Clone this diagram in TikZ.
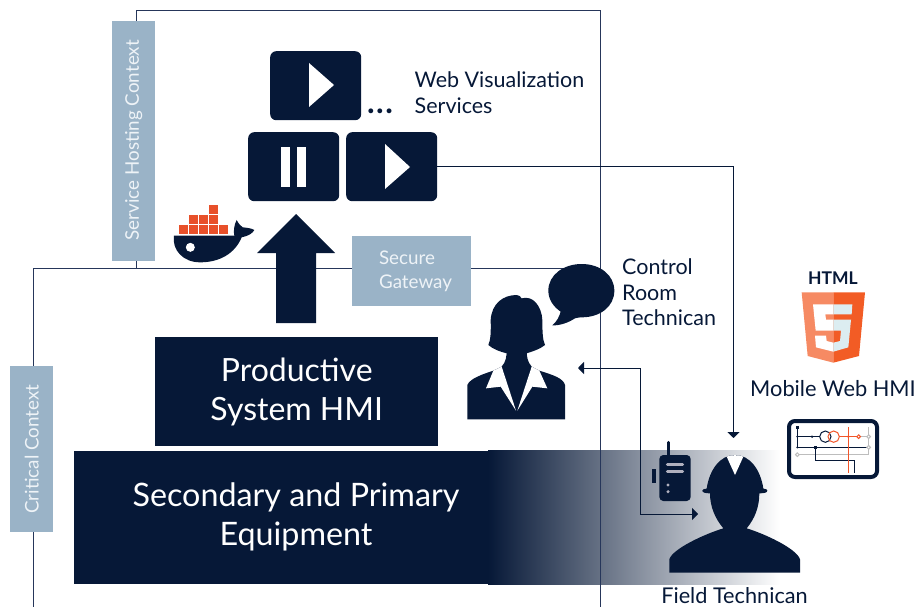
\documentclass[tikz,border=0pt]{standalone}
\usepackage{fontspec}
\setmainfont{Lato}
\usetikzlibrary{arrows.meta}
\definecolor{navy}{HTML}{061837}
\definecolor{bluegray}{HTML}{9AB3C7}
\definecolor{framec}{HTML}{26365A}
\definecolor{softw}{HTML}{EEF3F7}
\definecolor{dockor}{HTML}{E8502A}
\definecolor{orL}{HTML}{F68A63}
\definecolor{orR}{HTML}{F25C25}
\definecolor{pale}{HTML}{DCEDF1}
\definecolor{grille}{HTML}{B0B0BE}
\definecolor{ckor}{HTML}{F2562A}
\definecolor{ckgr}{HTML}{BDBDBD}
\definecolor{bandM}{HTML}{80809A}
\newcommand{\fsz}[2]{\fontsize{#1}{#2}\selectfont}
\tikzset{
  tile/.style={fill=navy,rounded corners=6pt,inner sep=0,minimum width=91pt,minimum height=69pt,anchor=north west},
  block/.style={fill=navy,text=white,inner sep=0,align=center,anchor=north west},
  ctx/.style={fill=bluegray,inner sep=0,anchor=north west},
  ctxlabel/.style={text=softw,inner sep=0,rotate=90,font=\fsz{18.8}{18.8}},
  label/.style={text=navy,inner sep=0,align=left,anchor=north west},
  frameline/.style={draw=framec,line width=1pt},
  conn/.style={draw=navy,line width=1pt,-{Triangle[length=6pt,width=12pt]}},
  connb/.style={draw=navy,line width=1pt,{Triangle[length=6pt,width=12pt]}-{Triangle[length=6pt,width=12pt]}},
  zoomed/.style={x=0.33333pt,y=-0.33333pt},
  sq/.style={fill=dockor},
}
\begin{document}
\begin{tikzpicture}[x=1pt,y=-1pt]
\useasboundingbox (0,0) rectangle (915,607);
% gradient band
\shade[left color=navy,middle color=bandM,right color=white] (488,450) rectangle (780,584);
% context frames
\coordinate (svcA) at (136.7,268.7);
\coordinate (svcB) at (136.7,10.7);
\coordinate (svcC) at (600.5,10.7);
\coordinate (svcD) at (600.5,607);
\coordinate (critA) at (33.3,607);
\coordinate (critB) at (33.3,268.7);
\coordinate (critC) at (565,268.7);
\draw[frameline] (svcA) -- (svcB) -- (svcC) -- (svcD);
\draw[frameline] (critA) -- (critB) -- (critC);
% context labels
\node[ctx,minimum width=43pt,minimum height=240pt] (svc) at (112,21) {};
\node[ctxlabel,xshift=1pt] at (svc.center) {Service Hosting Context};
\node[ctx,minimum width=43pt,minimum height=166pt] (crit) at (10,366) {};
\node[ctxlabel] at (crit.center) {Critical Context};
\node[ctx,minimum width=119pt,minimum height=70pt] (gw) at (352,236) {};
\node[text=softw,inner sep=0,font=\fsz{18.8}{24},align=left] (gwtext) at (415.5,271.5) {Secure\\Gateway};
% service tiles
\node[tile] (playa) at (270,51) {};
\node[tile] (pause) at (248,132) {};
\node[tile] (playb) at (346,132) {};
\fill[white] (309,63) -- (334,85) -- (309,107) -- cycle;
\fill[white] (385,144) -- (410,167) -- (385,189) -- cycle;
\fill[white] (281,147) rectangle (290,187);
\fill[white] (297,147) rectangle (306,187);
\node[label,font=\fsz{21.5}{26}] (webvis) at (414.5,71.5) {Web Visualization\\Services};
\node[text=navy,inner sep=0,font=\bfseries\fsz{32}{32}] (dots) at (380,111.5) {.\hspace{1.5pt}.\hspace{1.5pt}.};
% big arrow
\fill[navy] (296,214) -- (335,253) -- (316,253) -- (316,323) -- (276,323) -- (276,253) -- (257,253) -- cycle;
% docker
\foreach \x in {179,189,199,209,219} \fill[sq] (\x,225) rectangle +(9,9);
\foreach \x in {189,199,209} \fill[sq] (\x,215) rectangle +(9,9);
\fill[sq] (209,205) rectangle +(9,9);
\begin{scope}[shift={(100,0)},zoomed]
\fill[navy] (222,707) -- (403,707) .. controls (400,695) and (402,675) .. (410,660) .. controls (415,670) and (422,678) .. (428,682) .. controls (440,683) and (455,685) .. (463,690) .. controls (458,700) and (445,708) .. (425,712) .. controls (405,760) and (360,787) .. (300,787) .. controls (250,787) and (215,750) .. (222,707) -- cycle;
\fill[white] (271,742) circle[radius=13.5];
\end{scope}
% hmi blocks
\node[block,minimum width=283pt,minimum height=109pt,font=\fsz{32}{39}] (hmi) at (155,337) {Productive\\System HMI};
\node[block,minimum width=414pt,minimum height=133pt] (eqbox) at (74,451) {};
\node[text=white,inner sep=0,align=center,font=\fsz{32.3}{39}] (eq) at (296,517) {Secondary and Primary\\Equipment};
% woman
\begin{scope}[shift={(460,250)},zoomed]
\fill[navy] (92,210) .. controls (95,160) and (130,135) .. (170,135) .. controls (177,135) and (182,140) .. (185,145) .. controls (220,135) and (245,170) .. (247,210) .. controls (247,245) and (248,270) .. (255,285) .. controls (240,298) and (215,305) .. (200,310) -- (140,310) .. controls (120,305) and (100,298) .. (85,285) .. controls (92,270) and (93,245) .. (92,210) -- cycle;
\fill[navy] (22,508) -- (22,405) .. controls (30,385) and (70,372) .. (100,362) -- (125,350) .. controls (138,335) and (140,320) .. (140,300) -- (200,300) .. controls (200,320) and (202,335) .. (215,350) -- (238,362) .. controls (280,375) and (310,385) .. (315,405) -- (315,508) -- cycle;
\fill[white] (100,362) -- (78,415) -- (122,410) -- (168,482) -- (125,350) -- cycle;
\fill[white] (238,362) -- (262,415) -- (217,410) -- (172,482) -- (215,350) -- cycle;
% speech bubble
\fill[navy] (265,122) .. controls (265,75) and (310,42) .. (365,42) .. controls (420,42) and (463,75) .. (463,122) .. controls (463,170) and (420,202) .. (365,202) .. controls (358,202) and (352,203) .. (345,205) .. controls (325,218) and (300,227) .. (277,226) .. controls (290,215) and (298,200) .. (302,185) .. controls (280,170) and (265,148) .. (265,122) -- cycle;
\end{scope}
\node[label,font=\fsz{21.5}{25.5}] (ctrl) at (622,258.5) {Control\\Room\\Technican};
% radio
\begin{scope}[shift={(640,410)},zoomed]
\draw[navy,line width=3pt,line cap=round] (84,97) -- (84,140);
\fill[navy,rounded corners=4pt] (58,135) rectangle (152,273);
\fill[navy] (37,178) rectangle (47,218);
\draw[grille,line width=3pt,line cap=round] (82,162) -- (128,162);
\draw[grille,line width=3pt,line cap=round] (82,184) -- (128,184);
\fill[grille] (84,225) circle[radius=5];
\fill[grille] (84,245) circle[radius=5];
% technician
\fill[navy] (187,242) .. controls (187,238) and (193,236) .. (200,236) .. controls (208,180) and (240,135) .. (285,135) .. controls (330,135) and (362,180) .. (370,236) .. controls (377,236) and (382,238) .. (382,242) .. controls (382,248) and (372,250) .. (358,250) .. controls (358,290) and (345,325) .. (320,355) .. controls (370,370) and (470,415) .. (480,448) -- (480,488) -- (88,488) -- (88,448) .. controls (98,415) and (200,370) .. (250,355) .. controls (225,325) and (210,290) .. (210,250) .. controls (197,250) and (187,248) .. (187,242) -- cycle;
\fill[white] (260,140) -- (285,195) -- (310,140) .. controls (295,134) and (275,134) .. (260,140) -- cycle;
\end{scope}
\node[text=navy,inner sep=0,font=\fsz{21.7}{21.7}] (field) at (734.5,596) {Field Technican};
% html5
\node[text=navy,inner sep=0,font=\bfseries\fsz{17.5}{17.5}] (html) at (833,278) {HTML};
\begin{scope}[shift={(740,260)},zoomed]
\fill[orL] (185,97) -- (280,97) -- (280,308) -- (203,288) -- cycle;
\fill[orR] (280,97) -- (375,97) -- (357,288) -- (280,308) -- cycle;
\fill[white] (219,133) -- (280,133) -- (280,163) -- (256,163) -- (258,179) -- (280,179) -- (280,212) -- (227,212) -- cycle;
\fill[white] (280,248) -- (280,275) -- (228,262) -- (225,227) -- (258,227) -- (260,243) -- cycle;
\fill[pale] (280,133) -- (337,133) -- (335,163) -- (280,163) -- cycle;
\fill[pale] (280,179) -- (333,179) -- (325,262) -- (280,275) -- (280,248) -- (300,243) -- (303,212) -- (280,212) -- cycle;
\end{scope}
\node[text=navy,inner sep=0,font=\fsz{21.8}{21.8}] (mobile) at (833,389) {Mobile Web HMI};
% tablet
\draw[navy,line width=4pt,rounded corners=6pt,fill=white] (789,421) rectangle (877,477);
\begin{scope}[shift={(640,410)},zoomed]
\draw[ckgr,line width=1pt] (472,134) -- (686,134) -- (686,52);
\draw[ckgr,line width=1pt] (662,80) -- (680,80);
\draw[navy,line width=1pt] (472,50) -- (472,112) -- (680,112);
\draw[navy,line width=1pt] (472,80) -- (540,80);
\draw[navy,line width=1pt] (526,112) -- (526,150) -- (642,150) -- (642,188);
\fill[navy] (468,47) rectangle (477,56);
\fill[navy] (522,108) rectangle (531,117);
\fill[navy] (516,80) circle[radius=4];
\fill[navy] (472,80) circle[radius=3.5];
\fill[navy] (472,112) circle[radius=3.5];
\draw[navy,line width=1pt] (556,80) circle[radius=17];
\draw[ckor,line width=1pt] (581,80) circle[radius=17];
\draw[ckor,line width=1pt] (598,80) -- (651,80);
\draw[ckor,line width=1pt] (625,52) -- (625,188);
\fill[ckor] (625,80) circle[radius=4];
\draw[ckor,line width=1pt,fill=white] (656,80) circle[radius=5.5];
\draw[ckgr,line width=1pt,fill=white] (686,80) circle[radius=5.5];
\draw[ckgr,line width=1pt,fill=white] (686,112) circle[radius=5.5];
\draw[ckgr,line width=1pt,fill=white] (472,134) circle[radius=5.5];
\end{scope}
% connectors
\coordinate (fieldtop) at (733.5,438);
\coordinate (ctrlin) at (578,368);
\coordinate (fieldin) at (698,514);
\coordinate (bendA) at (640.5,368);
\coordinate (bendB) at (640.5,514);
\draw[conn] (playb.east) -| (fieldtop);
\draw[connb] (ctrlin) -- (bendA) -- (bendB) -- (fieldin);
\end{tikzpicture}
\end{document}
